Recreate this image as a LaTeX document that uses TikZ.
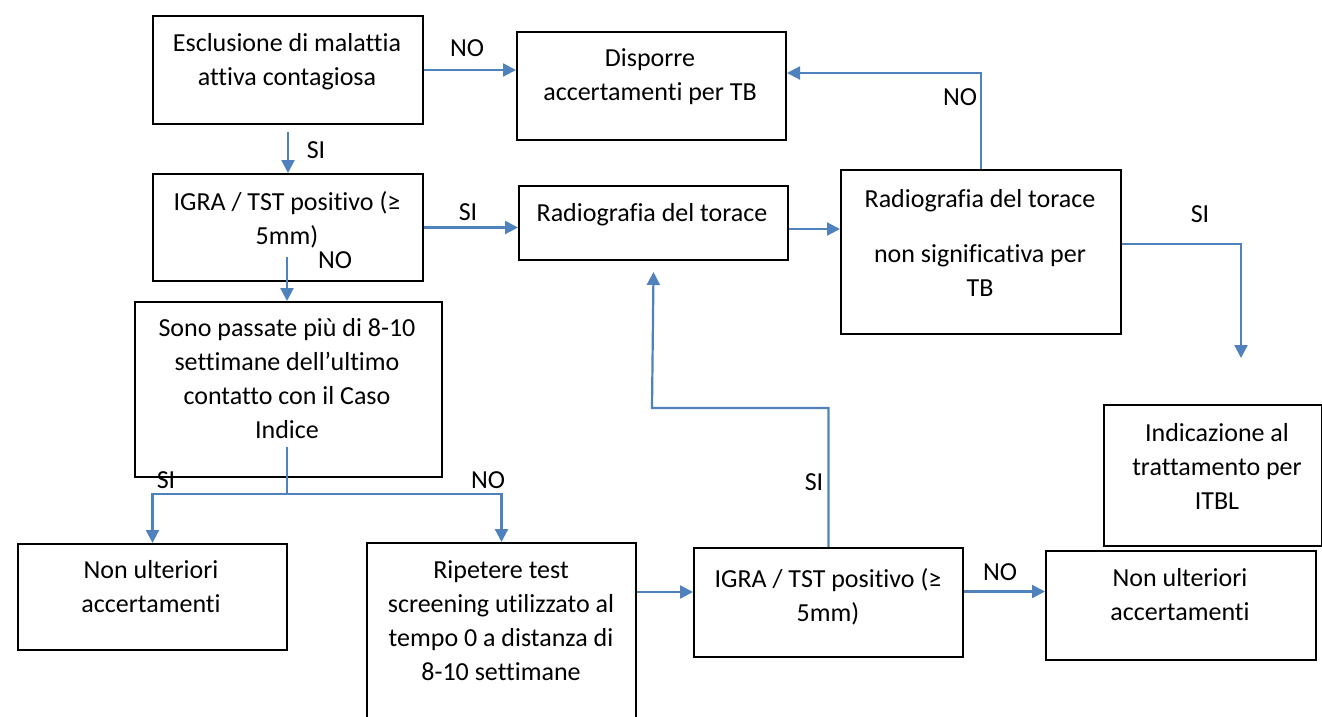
\documentclass[tikz,border=0pt]{standalone}
\usepackage{fontspec}
\setmainfont{Carlito}[Ligatures=NoCommon]
\usetikzlibrary{arrows.meta}
\definecolor{arrowc}{HTML}{4F81BD}
\begin{document}
\begin{tikzpicture}[x=1pt,y=-1pt,
  box/.style={draw=black, line width=2pt, anchor=north west, inner sep=0pt},
  txt/.style={anchor=north, align=center, inner sep=0pt, font=\fontsize{26}{34}\selectfont},
  lbl/.style={inner sep=0pt, font=\fontsize{26}{34}\selectfont},
  arr/.style={draw=arrowc, line width=2.2pt, -{Triangle[length=13pt,width=13pt]}},
  ln/.style={draw=arrowc, line width=2.2pt}]
\useasboundingbox (0,0) rectangle (1322,717);
\clip (0,0) rectangle (1322,717);
% boxes
\node[box, minimum width=270pt, minimum height=108pt] (A) at (152,15) {};
\node[box, minimum width=269pt, minimum height=108pt] (B) at (516,31) {};
\node[box, minimum width=270pt, minimum height=107pt] (C) at (152,173) {};
\node[box, minimum width=269pt, minimum height=74pt] (D) at (518,185) {};
\node[box, minimum width=280pt, minimum height=164pt] (E) at (840,169) {};
\node[box, minimum width=307pt, minimum height=175pt] (F) at (134,301) {};
\node[box, minimum width=269pt, minimum height=106pt] (G) at (17,543) {};
\node[box, minimum width=269pt, minimum height=210pt] (H) at (366,542) {};
\node[box, minimum width=269pt, minimum height=109pt] (I) at (693,547) {};
\node[box, minimum width=270pt, minimum height=109pt] (J) at (1045,550) {};
\node[box, minimum width=218pt, minimum height=141pt] (K) at (1103,404) {};
% texts
\node[txt] (At) at (287,33) {Esclusione di malattia\\attiva contagiosa};
\node[txt] (Bt) at (650,48) {Disporre\\accertamenti per TB};
\node[txt] (Ct) at (287,191) {IGRA / TST positivo (≥\\5mm)};
\node[txt] (Dt) at (652,203) {Radiografia del torace};
\node[txt] (Et) at (980,189) {Radiografia del torace\\[21pt]non significativa per\\TB};
\node[txt] (Ft) at (287,318) {Sono passate più di 8-10\\settimane dell’ultimo\\contatto con il Caso\\Indice};
\node[txt] (Gt) at (151,560) {Non ulteriori\\accertamenti};
\node[txt] (Ht) at (501,560) {Ripetere test\\screening utilizzato al\\tempo 0 a distanza di\\8-10 settimane};
\node[txt] (It) at (828,568) {IGRA / TST positivo (≥\\5mm)};
\node[txt] (Jt) at (1180,568) {Non ulteriori\\accertamenti};
\node[txt] (Kt) at (1217,423) {Indicazione al\\trattamento per\\ITBL};
% coordinates
\coordinate (kE) at (1241,358);
\coordinate (cs) at (287,257);
\coordinate (fs) at (287,447);
\coordinate (fj) at (287,494);
\coordinate (bend) at (652,408);
% connectors
\draw[arr] (A.east) -- (A.east -| B.west);
\draw[arr] ([yshift=-7pt]A.south) -- (C.north);
\draw[arr] (C.east) -- (C.east -| D.west);
\draw[arr] (cs) -- (cs |- F.north);
\draw[arr] ([yshift=-6pt]D.east) -- ([yshift=-6pt]D.east -| E.west);
\draw[arr] (E.north) |- ([yshift=13pt]B.east);
\draw[arr] ([yshift=8pt]E.east) -| (kE);
\draw[ln] (fs) -- (fj);
\draw[arr] (fj) -| (G.north);
\draw[arr] (fj) -| (H.north);
\draw[arr] (H.north east |- 0,592) -- (I.west |- 0,592);
\draw[arr] ([yshift=11pt]I.east) -- ([yshift=11pt]I.east -| J.west);
\draw[arr] (I.north) |- (bend) -- ([yshift=-11pt]D.south);
% labels
\node[lbl] (l1) at (467,48) {NO};
\node[lbl] (l2) at (316,150) {SI};
\node[lbl] (l3) at (468,212) {SI};
\node[lbl] (l4) at (335,260) {NO};
\node[lbl] (l5) at (960,97) {NO};
\node[lbl] (l6) at (1200,214) {SI};
\node[lbl] (l7) at (166,480) {SI};
\node[lbl] (l8) at (488,480) {NO};
\node[lbl] (l9) at (814,482) {SI};
\node[lbl] (l10) at (1000,572) {NO};
\end{tikzpicture}
\end{document}
